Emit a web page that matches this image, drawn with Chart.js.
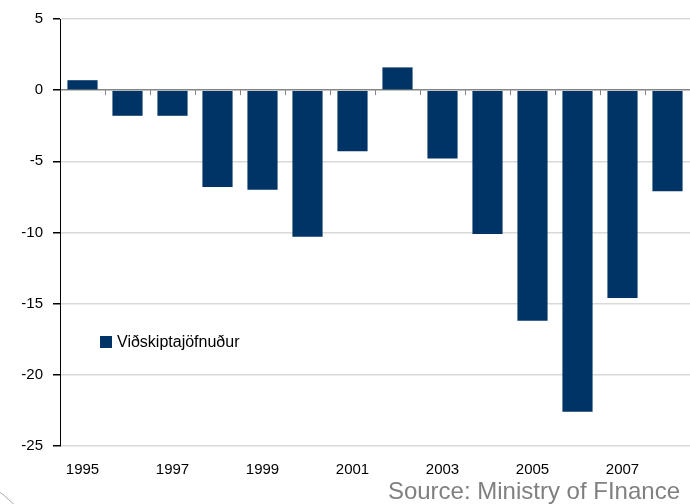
<!DOCTYPE html>
<html>
<head>
<meta charset="utf-8">
<script src="https://cdn.jsdelivr.net/npm/chart.js@4"></script>
<style>
  body { margin: 0; background: #fff; }
  #wrap { position: relative; width: 690px; height: 504px; overflow: hidden; }
  #legend { position: absolute; left: 100px; top: 333px; font: 16px Arial, "Liberation Sans", sans-serif; color: #000; display: flex; align-items: center; }
  #legend span.box { display: inline-block; width: 12px; height: 12px; background: #003366; margin-right: 5px; }
  #source { position: absolute; right: 10px; top: 477px; font: 24px Arial, "Liberation Sans", sans-serif; color: #808080; }
  #corner { position: absolute; left: -262px; top: 458px; width: 324px; height: 324px; border: 1.5px solid #a8a8a8; border-radius: 50%; }
</style>
</head>
<body>
<div id="wrap">
  <canvas id="grafica" width="690" height="504"></canvas>
  <div id="legend"><span class="box"></span>Viðskiptajöfnuður</div>
  <div id="source">Source: Ministry of FInance</div>
  <div id="corner"></div>
</div>
<script>
// Datos del grafico
var anios = ["1995", "1996", "1997", "1998", "1999", "2000", "2001", "2002", "2003", "2004", "2005", "2006", "2007", "2008"];
var jofnudur = [0.7, -1.8, -1.8, -6.8, -7.0, -10.3, -4.3, 1.6, -4.8, -10.1, -16.2, -22.6, -14.6, -7.1];
var ticksY = [5, 0, -5, -10, -15, -20, -25];

// marcas pequenas sobre la linea del cero, entre categorias
var marcasCero = {
    id: 'marcasCero',
    afterDatasetsDraw: function (chart) {
        var ctx = chart.ctx;
        var x = chart.scales.x;
        var y = chart.scales.y;
        var y0 = y.getPixelForValue(0);
        ctx.save();
        ctx.strokeStyle = '#868686';
        ctx.lineWidth = 1;
        for (var i = 0; i < anios.length - 1; i++) {
            var xm = Math.round((x.getPixelForValue(i) + x.getPixelForValue(i + 1)) / 2) + 0.5;
            ctx.beginPath();
            ctx.moveTo(xm, y0);
            ctx.lineTo(xm, y0 + 5);
            ctx.stroke();
        }
        ctx.restore();
    }
};

var barData = {
    labels: anios,
    datasets: [{
        label: "Viðskiptajöfnuður",
        data: jofnudur,
        backgroundColor: "#003366",
        borderWidth: 0,
        barPercentage: 0.67,
        categoryPercentage: 1
    }]
};

var barOptions = {
    responsive: false,
    animation: false,
    layout: { padding: { top: 17, right: 0, bottom: 10, left: 0 } },
    plugins: {
        legend: { display: false },
        tooltip: { enabled: false }
    },
    scales: {
        x: {
            grid: { display: false, drawTicks: false },
            border: { display: false },
            ticks: {
                autoSkip: false,
                maxRotation: 0,
                padding: 15,
                color: '#000',
                font: { family: 'Arial, "Liberation Sans", sans-serif', size: 15 },
                callback: function (val, i) { return i % 2 === 0 ? anios[i] : ''; }
            }
        },
        y: {
            min: -25,
            max: 5,
            afterFit: function (scale) { scale.width = 60; },
            afterBuildTicks: function (scale) {
                scale.ticks = ticksY.map(function (v) { return { value: v }; });
            },
            grid: {
                color: function (c) { return c.tick && c.tick.value === 0 ? '#868686' : '#d9d9d9'; },
                lineWidth: 1.5,
                tickColor: '#000',
                tickLength: 7
            },
            border: { color: '#000', width: 1 },
            ticks: {
                padding: 10,
                color: '#000',
                font: { family: 'Arial, "Liberation Sans", sans-serif', size: 15 }
            }
        }
    }
};

var barChart = new Chart("grafica", {
    type: 'bar',
    data: barData,
    options: barOptions,
    plugins: [marcasCero]
});
</script>
</body>
</html>
